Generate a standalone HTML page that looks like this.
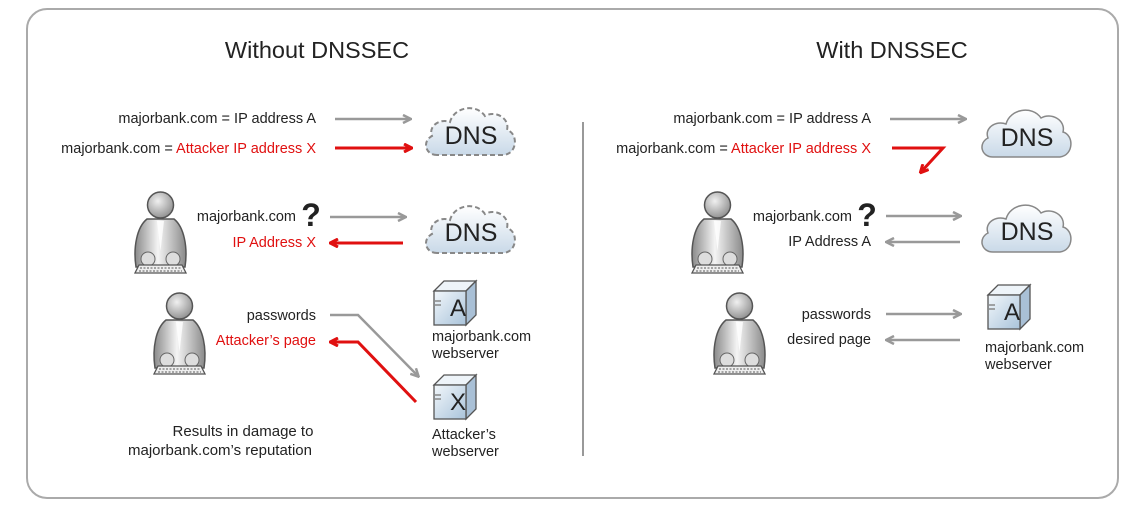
<!DOCTYPE html>
<html><head><meta charset="utf-8"><style>
html,body{margin:0;padding:0;background:#fff}
svg{display:block}
text{font-family:"Liberation Sans","DejaVu Sans",sans-serif}
</style></head><body>
<svg width="1143" height="521" viewBox="0 0 1143 521" xmlns="http://www.w3.org/2000/svg">
<defs>
<linearGradient id="cg" x1="0" y1="0" x2="0" y2="1"><stop offset="0" stop-color="#ffffff"/><stop offset="1" stop-color="#c9d9e8"/></linearGradient>
<linearGradient id="pg" x1="0" y1="0" x2="1" y2="0"><stop offset="0" stop-color="#8a8a8a"/><stop offset="0.45" stop-color="#f4f4f4"/><stop offset="1" stop-color="#8a8a8a"/></linearGradient>
<radialGradient id="hg" cx="0.4" cy="0.35" r="0.7"><stop offset="0" stop-color="#f0f0f0"/><stop offset="1" stop-color="#8d8d8d"/></radialGradient>
<linearGradient id="sg" x1="0" y1="0" x2="1" y2="1"><stop offset="0" stop-color="#f2f7fb"/><stop offset="1" stop-color="#a9c3da"/></linearGradient>
<marker id="ag" markerWidth="10" markerHeight="10" refX="8" refY="5" orient="auto" markerUnits="userSpaceOnUse"><path d="M1,1 L9,5 L1,9" fill="none" stroke="#999" stroke-width="2.5"/></marker>
<marker id="ar" markerWidth="10" markerHeight="10" refX="8" refY="5" orient="auto" markerUnits="userSpaceOnUse"><path d="M1,1 L9,5 L1,9" fill="none" stroke="#e01010" stroke-width="3"/></marker>
<path id="cloud" d="M15,54 C3,54 0,40 10,35 C6,25 18,17 28,21 C32,6 54,2 63,15 C73,9 88,17 85,29 C96,32 96,52 82,54 Z"/>
<g id="person">
<path d="M14,30 C4,38 0,58 3,78 L52,78 C55,58 51,38 41,30 Z" fill="url(#pg)" stroke="#555" stroke-width="1.5"/>
<path d="M24,32 L27.5,62 L31,32 Z" fill="#fff" opacity="0.8"/>
<circle cx="27.5" cy="16" r="13" fill="url(#hg)" stroke="#555" stroke-width="1.5"/>
<circle cx="15" cy="70" r="7" fill="#ddd" stroke="#666"/>
<circle cx="40" cy="70" r="7" fill="#ddd" stroke="#666"/>
<path d="M6,76 L49,76 L53,84 L2,84 Z" fill="#eee" stroke="#555" stroke-width="1.3"/>
<path d="M7,79 H48 M6,82 H49" stroke="#777" stroke-width="1.2" stroke-dasharray="2,1.5"/>
</g>
<g id="server">
<path d="M2,12 L12,2 L44,2 L34,12 Z" fill="#eef4f9" stroke="#555" stroke-width="1.3"/>
<path d="M34,12 L44,2 L44,36 L34,46 Z" fill="#a9c0d6" stroke="#555" stroke-width="1.3"/>
<rect x="2" y="12" width="32" height="34" fill="url(#sg)" stroke="#555" stroke-width="1.3"/>
<path d="M3,22 H9 M3,26 H9" stroke="#888" stroke-width="1.5"/>
</g>
</defs>

<rect x="27" y="9" width="1091" height="489" rx="20" fill="#fff" stroke="#aaa" stroke-width="2"/>
<text x="317" y="58" font-size="23.5" text-anchor="middle" fill="#222">Without DNSSEC</text>
<text x="892" y="58" font-size="23.5" text-anchor="middle" fill="#222">With DNSSEC</text>
<line x1="583" y1="122" x2="583" y2="456" stroke="#999" stroke-width="2"/>

<g font-size="14.5" fill="#222" text-anchor="end">
<text x="316" y="123">majorbank.com = IP address A</text>
<text x="316" y="153">majorbank.com = <tspan fill="#e01010">Attacker IP address X</tspan></text>
<text x="296" y="221">majorbank.com</text>
<text x="316" y="247" fill="#e01010">IP Address X</text>
<text x="316" y="320">passwords</text>
<text x="316" y="345" fill="#e01010">Attacker’s page</text>
<text x="871" y="123">majorbank.com = IP address A</text>
<text x="871" y="153">majorbank.com = <tspan fill="#e01010">Attacker IP address X</tspan></text>
<text x="852" y="221">majorbank.com</text>
<text x="871" y="246">IP Address A</text>
<text x="871" y="319">passwords</text>
<text x="871" y="344">desired page</text>
</g>
<text x="311" y="226" font-size="32" font-weight="bold" text-anchor="middle" fill="#222">?</text>
<text x="867" y="226" font-size="32" font-weight="bold" text-anchor="middle" fill="#222">?</text>

<g font-size="14.5" fill="#222">
<text x="243" y="436" font-size="15" text-anchor="middle">Results in damage to</text>
<text x="220" y="455" font-size="15" text-anchor="middle">majorbank.com’s reputation</text>
<text x="432" y="341">majorbank.com</text>
<text x="432" y="358">webserver</text>
<text x="432" y="439">Attacker’s</text>
<text x="432" y="456">webserver</text>
<text x="985" y="352">majorbank.com</text>
<text x="985" y="369">webserver</text>
</g>

<line x1="335" y1="119" x2="410" y2="119" stroke="#999" stroke-width="2.5" marker-end="url(#ag)"/>
<line x1="335" y1="148" x2="411" y2="148" stroke="#e01010" stroke-width="3" marker-end="url(#ar)"/>
<line x1="330" y1="217" x2="405" y2="217" stroke="#999" stroke-width="2.5" marker-end="url(#ag)"/>
<line x1="403" y1="243" x2="331" y2="243" stroke="#e01010" stroke-width="3" marker-end="url(#ar)"/>
<polyline points="330,315 358,315 418,376" fill="none" stroke="#999" stroke-width="2.5" marker-end="url(#ag)"/>
<polyline points="416,402 358,342 331,342" fill="none" stroke="#e01010" stroke-width="3" marker-end="url(#ar)"/>
<line x1="890" y1="119" x2="965" y2="119" stroke="#999" stroke-width="2.5" marker-end="url(#ag)"/>
<polyline points="892,148 943,148 921,172" fill="none" stroke="#e01010" stroke-width="3" marker-end="url(#ar)"/>
<line x1="886" y1="216" x2="960" y2="216" stroke="#999" stroke-width="2.5" marker-end="url(#ag)"/>
<line x1="960" y1="242" x2="887" y2="242" stroke="#999" stroke-width="2.5" marker-end="url(#ag)"/>
<line x1="886" y1="314" x2="960" y2="314" stroke="#999" stroke-width="2.5" marker-end="url(#ag)"/>
<line x1="960" y1="340" x2="887" y2="340" stroke="#999" stroke-width="2.5" marker-end="url(#ag)"/>

<use href="#cloud" x="422" y="101" fill="url(#cg)" stroke="#888" stroke-width="2" stroke-dasharray="5,3"/>
<use href="#cloud" x="422" y="199" fill="url(#cg)" stroke="#888" stroke-width="2" stroke-dasharray="5,3"/>
<use href="#cloud" x="978" y="103" fill="url(#cg)" stroke="#888" stroke-width="1.5"/>
<use href="#cloud" x="978" y="198" fill="url(#cg)" stroke="#888" stroke-width="1.5"/>
<g font-size="25" fill="#222" text-anchor="middle">
<text x="471" y="144">DNS</text>
<text x="471" y="241">DNS</text>
<text x="1027" y="146">DNS</text>
<text x="1027" y="240">DNS</text>
</g>

<use href="#person" x="133" y="189"/>
<use href="#person" x="152" y="290"/>
<use href="#person" x="690" y="189"/>
<use href="#person" x="712" y="290"/>

<use href="#server" x="432" y="279"/>
<use href="#server" x="432" y="373"/>
<use href="#server" x="986" y="283"/>
<g font-size="24" fill="#222" text-anchor="middle">
<text x="458" y="316">A</text>
<text x="458" y="410">X</text>
<text x="1012" y="320">A</text>
</g>
</svg>
</body></html>
